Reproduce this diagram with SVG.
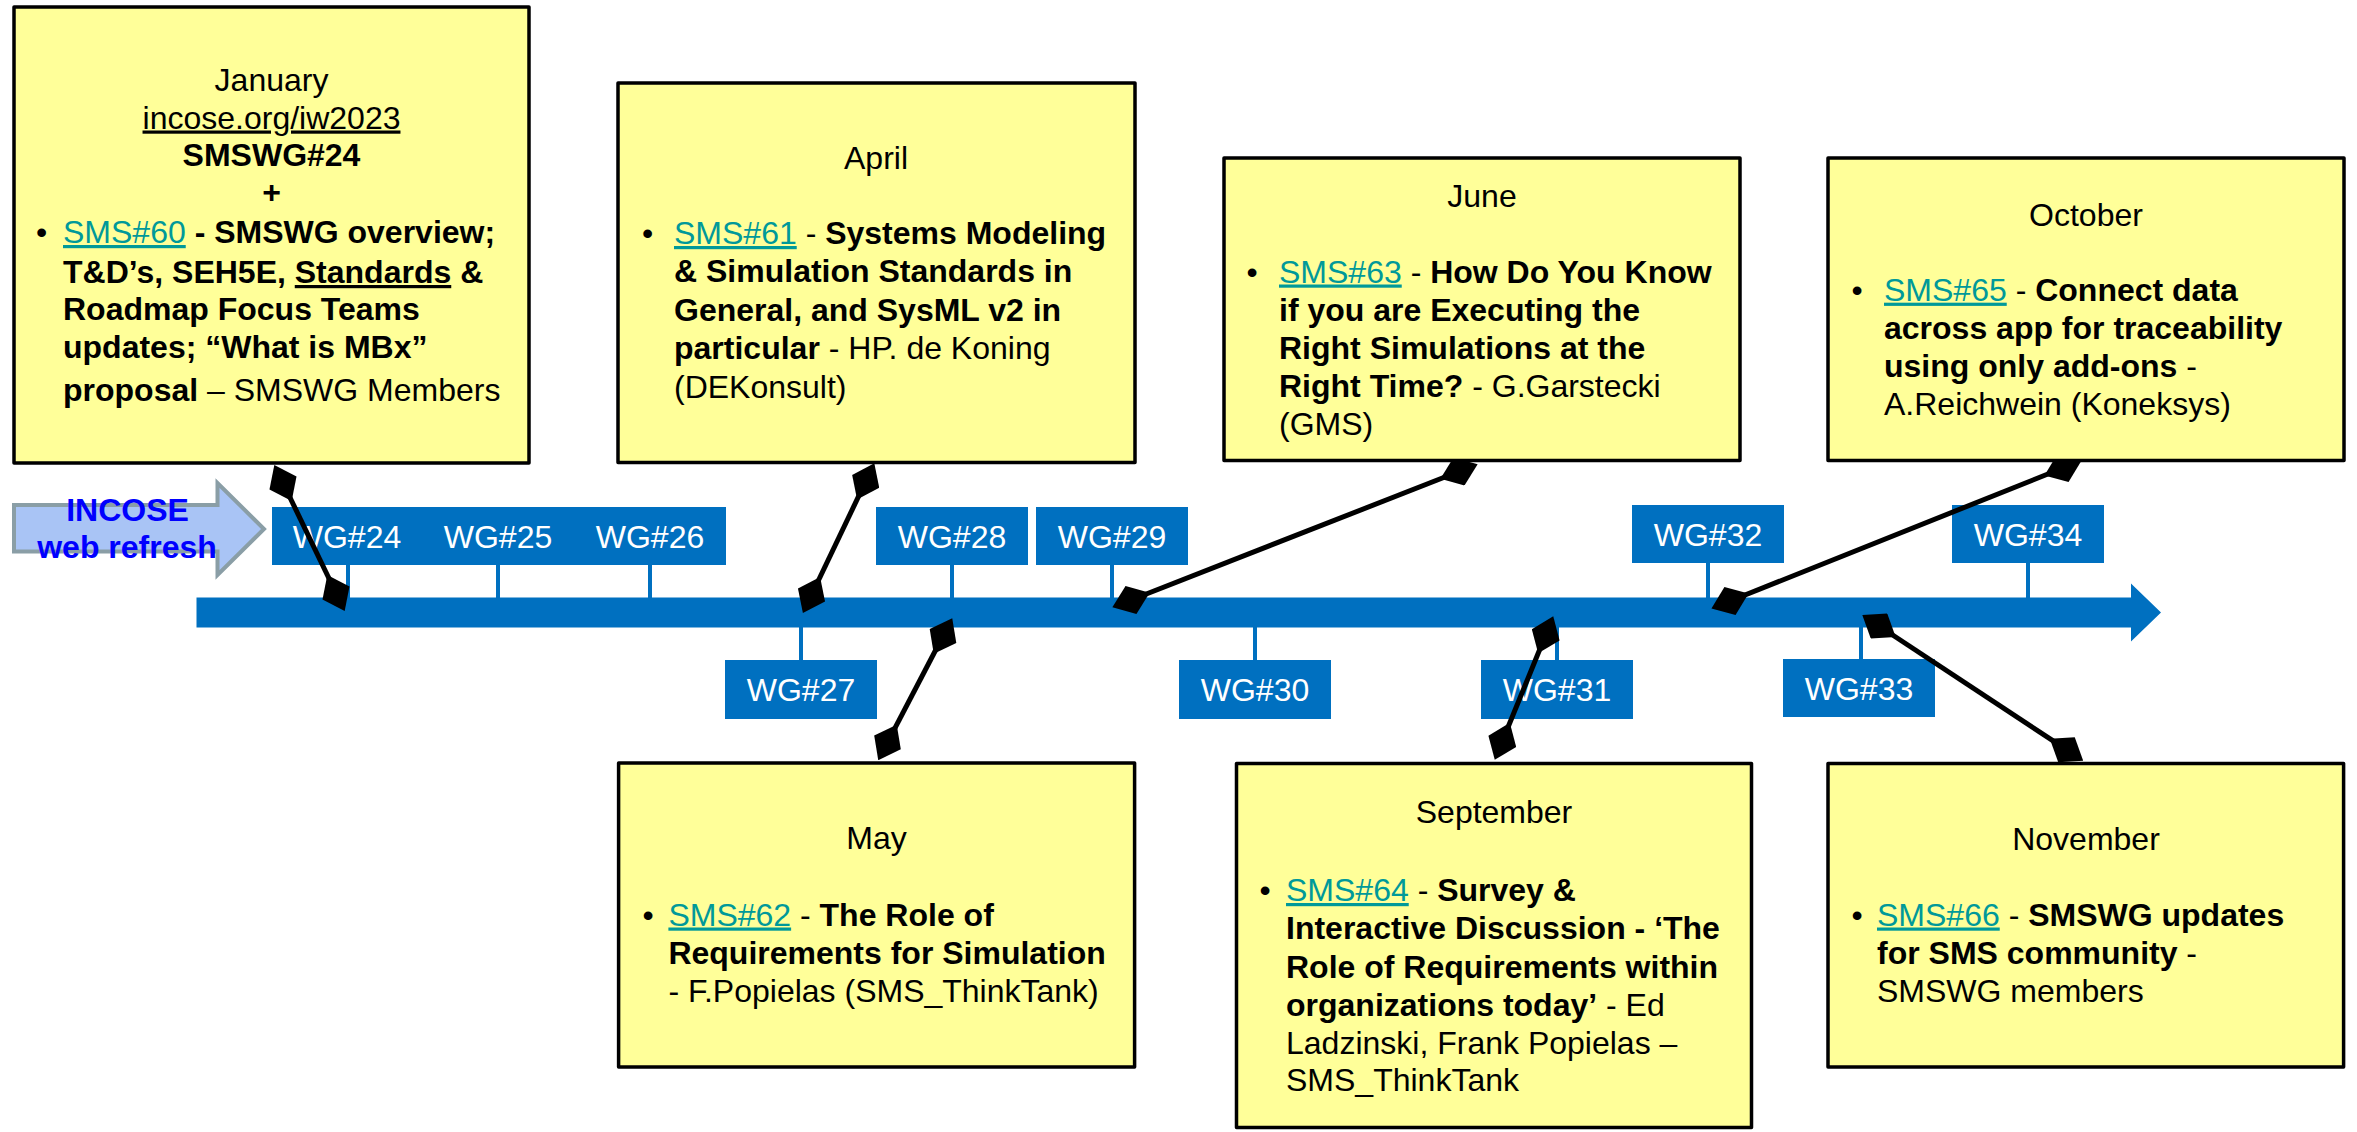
<svg xmlns="http://www.w3.org/2000/svg" width="2357" height="1132" viewBox="0 0 2357 1132">
<defs>
<style>
text{font-family:"Liberation Sans",Arial,sans-serif;font-size:32px;fill:#000}
.c{text-anchor:middle}
.b{font-weight:bold}
.lk{fill:#009999;text-decoration:underline}
.u{text-decoration:underline}
.box{fill:#FFFF99;stroke:#000;stroke-width:3.5;stroke-linejoin:round}
.wgbox{fill:#0070C0}
.wg{fill:#fff;text-anchor:middle}
.tick{stroke:#0070C0;stroke-width:4}
.conn{stroke:#000;stroke-width:5;fill:none;marker-start:url(#dia);marker-end:url(#dia)}
</style>
<marker id="dia" viewBox="-20 -15 40 30" refX="0" refY="0" markerWidth="40" markerHeight="30" markerUnits="userSpaceOnUse" orient="auto"><path d="M-20 0L0-15L20 0L0 15Z" fill="#000"/></marker>
</defs>
<rect width="2357" height="1132" fill="#fff"/>

<g id="timeline">
<path d="M196.5,597.5 H2131 V583.5 L2161,612.5 L2131,641.5 V627.5 H196.5 Z" fill="#0070C0"/>
<line class="tick" x1="348" y1="564" x2="348" y2="598"/>
<line class="tick" x1="498" y1="564" x2="498" y2="598"/>
<line class="tick" x1="650" y1="564" x2="650" y2="598"/>
<line class="tick" x1="952" y1="564" x2="952" y2="598"/>
<line class="tick" x1="1112" y1="564" x2="1112" y2="598"/>
<line class="tick" x1="1708" y1="562" x2="1708" y2="598"/>
<line class="tick" x1="2028" y1="562" x2="2028" y2="598"/>
<line class="tick" x1="801" y1="627" x2="801" y2="660"/>
<line class="tick" x1="1255" y1="627" x2="1255" y2="660"/>
<line class="tick" x1="1557" y1="627" x2="1557" y2="660"/>
<line class="tick" x1="1861" y1="627" x2="1861" y2="659"/>
</g>

<g id="wg24-26">
<rect class="wgbox" x="272" y="507" width="454" height="58"/>
<text class="wg" x="347" y="548">WG#24</text>
<text class="wg" x="498" y="548">WG#25</text>
<text class="wg" x="650" y="548">WG#26</text>
</g>
<g id="wg28"><rect class="wgbox" x="876" y="507" width="152" height="58"/><text class="wg" x="952" y="548">WG#28</text></g>
<g id="wg29"><rect class="wgbox" x="1036" y="507" width="152" height="58"/><text class="wg" x="1112" y="548">WG#29</text></g>
<g id="wg32"><rect class="wgbox" x="1632" y="505" width="152" height="58"/><text class="wg" x="1708" y="546">WG#32</text></g>
<g id="wg34"><rect class="wgbox" x="1952" y="505" width="152" height="58"/><text class="wg" x="2028" y="546">WG#34</text></g>
<g id="wg27"><rect class="wgbox" x="725" y="660" width="152" height="59"/><text class="wg" x="801" y="701">WG#27</text></g>
<g id="wg30"><rect class="wgbox" x="1179" y="660" width="152" height="59"/><text class="wg" x="1255" y="701">WG#30</text></g>
<g id="wg31"><rect class="wgbox" x="1481" y="660" width="152" height="59"/><text class="wg" x="1557" y="701">WG#31</text></g>
<g id="wg33"><rect class="wgbox" x="1783" y="659" width="152" height="58"/><text class="wg" x="1859" y="700">WG#33</text></g>

<g id="incose">
<path d="M14,505 H217.5 V483 L264,529 L217.5,575 V551.6 H14 Z" fill="#A9C4F5" stroke="#8A9EA6" stroke-width="4" stroke-linejoin="miter"/>
<text class="c b" x="127.5" y="521" fill="#0000FF" style="fill:#0000FF">INCOSE</text>
<text class="c b" x="127" y="557.5" style="fill:#0000FF">web refresh</text>
</g>

<g id="connectors">
<line class="conn" x1="283" y1="483" x2="336" y2="593"/>
<line class="conn" x1="865.7" y1="481.4" x2="811.5" y2="595"/>
<line class="conn" x1="1459" y1="471.5" x2="1131" y2="600"/>
<line class="conn" x1="2063" y1="468" x2="1730" y2="601"/>
<line class="conn" x1="943" y1="636" x2="887.5" y2="742.4"/>
<line class="conn" x1="1545.7" y1="634.8" x2="1502.3" y2="741.3"/>
<line class="conn" x1="1879" y1="626" x2="2066.5" y2="749.7"/>
</g>

<g id="january">
<rect class="box" x="14" y="7" width="515" height="456"/>
<text class="c" x="271.5" y="91">January</text>
<text class="c u" x="271.5" y="128.5">incose.org/iw2023</text>
<text class="c b" x="271.5" y="166">SMSWG#24</text>
<text class="c b" x="271.5" y="203">+</text>
<text class="c" x="41.5" y="243">•</text>
<text x="63" y="243"><tspan class="lk">SMS#60</tspan><tspan class="b"> - SMSWG overview;</tspan></text>
<text x="63" y="283" class="b">T&amp;D’s, SEH5E, <tspan class="u">Standards</tspan> &amp;</text>
<text x="63" y="320" class="b">Roadmap Focus Teams</text>
<text x="63" y="358" class="b">updates; “What is MBx”</text>
<text x="63" y="401"><tspan class="b">proposal</tspan> – SMSWG Members</text>
</g>

<g id="april">
<rect class="box" x="618" y="83" width="517" height="379.5"/>
<text class="c" x="876" y="169">April</text>
<text class="c" x="647.5" y="244">•</text>
<text x="674" y="244"><tspan class="lk">SMS#61</tspan> - <tspan class="b">Systems Modeling</tspan></text>
<text x="674" y="282" class="b">&amp; Simulation Standards in</text>
<text x="674" y="320.5" class="b">General, and SysML v2 in</text>
<text x="674" y="359"><tspan class="b">particular</tspan> - HP. de Koning</text>
<text x="674" y="397.5">(DEKonsult)</text>
</g>

<g id="june">
<rect class="box" x="1224" y="158" width="516" height="302.6"/>
<text class="c" x="1482" y="207">June</text>
<text class="c" x="1252" y="282.5">•</text>
<text x="1279" y="282.5"><tspan class="lk">SMS#63</tspan> - <tspan class="b">How Do You Know</tspan></text>
<text x="1279" y="320.8" class="b">if you are Executing the</text>
<text x="1279" y="359" class="b">Right Simulations at the</text>
<text x="1279" y="397.3"><tspan class="b">Right Time?</tspan> - G.Garstecki</text>
<text x="1279" y="435">(GMS)</text>
</g>

<g id="october">
<rect class="box" x="1828" y="158" width="516" height="302.6"/>
<text class="c" x="2086" y="225.5">October</text>
<text class="c" x="1857" y="300.7">•</text>
<text x="1884" y="300.7"><tspan class="lk">SMS#65</tspan> - <tspan class="b">Connect data</tspan></text>
<text x="1884" y="339" class="b">across app for traceability</text>
<text x="1884" y="377"><tspan class="b">using only add-ons</tspan> -</text>
<text x="1884" y="415">A.Reichwein (Koneksys)</text>
</g>

<g id="may">
<rect class="box" x="618.6" y="763" width="516" height="304"/>
<text class="c" x="876.6" y="849">May</text>
<text class="c" x="648" y="925.5">•</text>
<text x="668.4" y="925.5"><tspan class="lk">SMS#62</tspan> - <tspan class="b">The Role of</tspan></text>
<text x="668.4" y="964" class="b">Requirements for Simulation</text>
<text x="668.4" y="1002">- F.Popielas (SMS_ThinkTank)</text>
</g>

<g id="september">
<rect class="box" x="1236.5" y="763.6" width="515" height="364"/>
<text class="c" x="1494" y="822.6">September</text>
<text class="c" x="1265" y="901">•</text>
<text x="1286" y="901"><tspan class="lk">SMS#64</tspan> - <tspan class="b">Survey &amp;</tspan></text>
<text x="1286" y="939.4" class="b">Interactive Discussion - ‘The</text>
<text x="1286" y="977.7" class="b">Role of Requirements within</text>
<text x="1286" y="1016"><tspan class="b">organizations today’</tspan> - Ed</text>
<text x="1286" y="1054.3">Ladzinski, Frank Popielas –</text>
<text x="1286" y="1091">SMS_ThinkTank</text>
</g>

<g id="november">
<rect class="box" x="1828" y="763.6" width="515.6" height="303.4"/>
<text class="c" x="2086" y="850">November</text>
<text class="c" x="1857" y="925.5">•</text>
<text x="1877" y="925.5"><tspan class="lk">SMS#66</tspan> - <tspan class="b">SMSWG updates</tspan></text>
<text x="1877" y="964"><tspan class="b">for SMS community</tspan> -</text>
<text x="1877" y="1002">SMSWG members</text>
</g>
</svg>
